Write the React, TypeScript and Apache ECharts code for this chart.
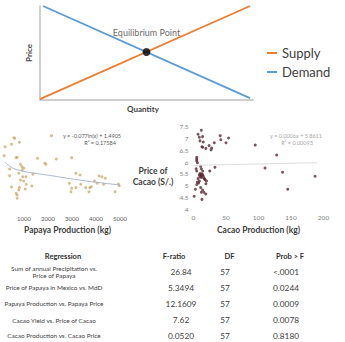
import React, { useEffect, useRef } from "react";
import * as echarts from "echarts";

// ---------- Data ----------
const supplyLine = [[0, 0.1], [9.86, 10]];
const demandLine = [[0.14, 10], [9.86, 0.2]];
const equilibrium = [[5.0, 5.1]];
const legendNames = ["Supply", "Demand"];

const papayaPoints = [
  [579, 1.25], [620, 1.245], [212, 1.171], [481, 1.192], [808, 1.21], [2142, 1.268],
  [171, 1.092], [673, 1.075], [714, 1.078], [1559, 1.069], [1869, 1.026], [1909, 1.017],
  [2346, 1.063], [2987, 1.075], [849, 1.017], [918, 0.996], [987, 0.982], [400, 0.976],
  [400, 0.917], [918, 0.967], [783, 0.938], [947, 0.908], [1081, 0.908], [1367, 0.929],
  [849, 0.879], [987, 0.87], [1093, 0.841], [481, 0.818], [808, 0.812], [1326, 0.826],
  [783, 0.791], [673, 0.762], [1053, 0.8], [714, 0.748], [714, 0.719], [3162, 0.938],
  [3337, 0.923], [2889, 0.85], [2987, 0.806], [2958, 0.776], [3162, 0.812], [3366, 0.841],
  [3570, 0.812], [3745, 0.812], [3803, 0.82], [3937, 0.87], [4129, 0.914], [4251, 0.908],
  [4386, 0.894], [4047, 0.85], [4317, 0.841], [3705, 0.776], [4794, 0.776], [4929, 0.844],
  [4969, 0.829],
];
const papayaTrend = [
  [212, 1.034], [510, 0.987], [918, 0.958], [1461, 0.938], [2142, 0.917],
  [2823, 0.894], [3501, 0.873], [4182, 0.855], [4998, 0.835],
];
const papayaXTicks = [0, 5000, 1000];

const cacaoPoints = [
  [12, 7.35], [7, 7.18], [9, 7.05], [14, 7.08], [10, 6.9], [15, 6.85], [13, 6.65], [14, 6.63],
  [19, 6.58], [24, 6.7], [28, 6.6], [27, 6.52], [32, 6.82], [41, 7.12], [42, 6.95], [50, 6.82],
  [54, 7.02], [95, 6.72], [128, 6.3], [110, 5.75], [137, 5.57], [145, 4.85], [187, 5.4],
  [5, 6.2], [5, 6.12], [5, 6.05], [6, 5.97], [4, 5.72], [5, 5.62], [11, 5.82], [12, 5.72],
  [14, 5.62], [9, 5.45], [10, 5.52], [11, 5.48], [12, 5.42], [13, 5.5], [14, 5.45], [10, 5.38],
  [12, 5.35], [15, 5.4], [16, 5.32], [18, 5.25], [20, 5.2], [19, 5.08], [6, 5.15], [5, 5.05],
  [8, 5.12], [11, 4.92], [14, 4.82], [12, 4.72], [16, 4.72], [19, 4.65], [13, 4.42], [1, 4.55],
  [3, 4.85], [25, 5.62], [33, 5.78], [7, 5.3], [9, 5.2], [17, 5.28],
];
const cacaoTrend = [[0, 5.8611], [190, 5.9751]];
const cacaoXTicks = [0, 200, 50];
const cacaoYTicks = [4, 7.5, 0.5];

const papayaEquation = ["y = -0.077ln(x) + 1.4905", "R² = 0.17584"];
const cacaoEquation = ["y = 0.0006x + 5.8611", "R² = 0.00093"];

const tableHeaders = ["Regression", "F-ratio", "DF", "Prob > F"];
const regressionLabels = [
  "Sum of annual Precipitation vs.\nPrice of Papaya",
  "Price of Papaya in Mexico vs. MdD",
  "Papaya Production vs. Papaya Price",
  "Cacao Yield vs. Price of Cacao",
  "Cacao Production vs. Cacao Price",
];
const fRatios = ["26.84", "5.3494", "12.1609", "7.62", "0.0520"];
const dfs = ["57", "57", "57", "57", "57"];
const probs = ["<.0001", "0.0244", "0.0009", "0.0078", "0.8180"];

// ---------- Layout ----------
const FONT = "Lato, 'Open Sans', sans-serif";
const rowY = [271.5, 287.5, 303.5, 320, 335.5];
const colX = { label: 54, f: 181, df: 225, p: 286 };
const headerX = [63, 174, 229.5, 290];

export default function App() {
  const ref = useRef<HTMLDivElement>(null);

  useEffect(() => {
    if (!ref.current) return;
    const chart = echarts.init(ref.current, undefined, { renderer: "svg" });

    const tableGraphics: any[] = [];
    tableHeaders.forEach((h, i) => {
      tableGraphics.push({
        type: "text",
        x: headerX[i],
        y: 256,
        style: {
          text: h,
          fontSize: 7.5,
          fontWeight: "bold",
          fill: "#303030",
          fontFamily: FONT,
          align: "center",
          verticalAlign: "middle",
        },
      });
    });
    regressionLabels.forEach((lab, i) => {
      tableGraphics.push({
        type: "text",
        x: colX.label,
        y: rowY[i],
        style: {
          text: lab,
          fontSize: 6.4,
          lineHeight: 7,
          fill: "#404040",
          fontFamily: FONT,
          align: "center",
          verticalAlign: "middle",
        },
      });
      [
        [fRatios[i], colX.f],
        [dfs[i], colX.df],
        [probs[i], colX.p],
      ].forEach(([t, x]) => {
        tableGraphics.push({
          type: "text",
          x: x as number,
          y: rowY[i],
          style: {
            text: t as string,
            fontSize: 8.3,
            fill: "#404040",
            fontFamily: FONT,
            align: "center",
            verticalAlign: "middle",
          },
        });
      });
    });

    const eqText = (text: string, x: number, y: number, color: string) => ({
      type: "text",
      x,
      y,
      style: {
        text,
        fontSize: 5.5,
        fill: color,
        fontFamily: FONT,
        align: "center",
        verticalAlign: "middle",
      },
    });

    const option: any = {
      animation: false,
      backgroundColor: "#ffffff",
      textStyle: { fontFamily: FONT },
      legend: {
        data: legendNames,
        orient: "vertical",
        left: 262,
        top: 41,
        itemWidth: 10,
        itemHeight: 2,
        itemGap: 5,
        icon: "rect",
        textStyle: { fontSize: 13, lineHeight: 14, color: "#404040", fontFamily: FONT },
      },
      grid: [
        { left: 40, top: 6, width: 213, height: 94 },
        { left: -2.5, top: 126.3, width: 122.5, height: 85.5 },
        { left: 193.5, top: 126.7, width: 130, height: 82.6 },
      ],
      xAxis: [
        {
          gridIndex: 0,
          type: "value",
          min: 0,
          max: 10,
          axisLine: { show: true, lineStyle: { color: "#bfbfbf", width: 1.5 } },
          axisTick: { show: false },
          axisLabel: { show: false },
          splitLine: { show: false },
          name: "Quantity",
          nameLocation: "middle",
          nameGap: 5,
          nameTextStyle: { fontSize: 8, fontWeight: "bold", color: "#404040", padding: [0, 7, 0, 0] },
        },
        {
          gridIndex: 1,
          type: "value",
          min: papayaXTicks[0],
          max: papayaXTicks[1],
          interval: papayaXTicks[2],
          axisLine: { show: false },
          axisTick: { show: false },
          splitLine: { show: false },
          axisLabel: {
            fontSize: 6,
            color: "#595959",
            margin: 4,
            showMinLabel: false,
            formatter: (v: number) => String(v),
          },
          name: "Papaya Production (kg)",
          nameLocation: "middle",
          nameGap: 14,
          nameTextStyle: { fontSize: 8.5, fontWeight: "bold", color: "#404040", padding: [0, 0, 0, 15] },
        },
        {
          gridIndex: 2,
          type: "value",
          min: cacaoXTicks[0],
          max: cacaoXTicks[1],
          interval: cacaoXTicks[2],
          axisLine: { show: false },
          axisTick: { show: false },
          splitLine: { show: false },
          axisLabel: { fontSize: 6.5, color: "#7f7f7f", margin: 5 },
          name: "Cacao Production (kg)",
          nameLocation: "middle",
          nameGap: 16,
          nameTextStyle: { fontSize: 8.5, fontWeight: "bold", color: "#404040" },
        },
      ],
      yAxis: [
        {
          gridIndex: 0,
          type: "value",
          min: 0,
          max: 10,
          axisLine: { show: true, lineStyle: { color: "#bfbfbf", width: 1.5 } },
          axisTick: { show: false },
          axisLabel: { show: false },
          splitLine: { show: false },
          name: "Price",
          nameLocation: "middle",
          nameGap: 7,
          nameRotate: 90,
          nameTextStyle: { fontSize: 8, fontWeight: "bold", color: "#404040" },
        },
        {
          gridIndex: 1,
          type: "value",
          min: 0.6,
          max: 1.35,
          show: false,
        },
        {
          gridIndex: 2,
          type: "value",
          min: cacaoYTicks[0],
          max: cacaoYTicks[1],
          interval: cacaoYTicks[2],
          axisLine: { show: false },
          axisTick: { show: false },
          splitLine: { show: false },
          axisLabel: { fontSize: 6.5, color: "#7f7f7f", margin: 5 },
        },
      ],
      series: [
        {
          name: "Supply",
          type: "line",
          xAxisIndex: 0,
          yAxisIndex: 0,
          data: supplyLine,
          symbol: "none",
          color: "#ED7D31",
          lineStyle: { width: 1.8, color: "#ED7D31" },
        },
        {
          name: "Demand",
          type: "line",
          xAxisIndex: 0,
          yAxisIndex: 0,
          data: demandLine,
          symbol: "none",
          color: "#5B9BD5",
          lineStyle: { width: 1.8, color: "#5B9BD5" },
        },
        {
          name: "Equilibrium",
          type: "scatter",
          xAxisIndex: 0,
          yAxisIndex: 0,
          data: equilibrium,
          symbolSize: 8,
          itemStyle: { color: "#000000" },
          label: {
            show: true,
            position: "top",
            distance: 11,
            formatter: "Equilibrium Point",
            fontSize: 9,
            color: "#404040",
            fontFamily: FONT,
          },
          z: 5,
        },
        {
          name: "Papaya trend",
          type: "line",
          xAxisIndex: 1,
          yAxisIndex: 1,
          data: papayaTrend,
          smooth: true,
          symbol: "none",
          lineStyle: { width: 1, color: "#aab8cc" },
        },
        {
          name: "Papaya",
          type: "scatter",
          xAxisIndex: 1,
          yAxisIndex: 1,
          data: papayaPoints,
          symbolSize: 3,
          itemStyle: { color: "#c9ad72" },
        },
        {
          name: "Cacao trend",
          type: "line",
          xAxisIndex: 2,
          yAxisIndex: 2,
          data: cacaoTrend,
          symbol: "none",
          lineStyle: { width: 1, color: "#dcdcdc" },
        },
        {
          name: "Cacao",
          type: "scatter",
          xAxisIndex: 2,
          yAxisIndex: 2,
          data: cacaoPoints,
          symbolSize: 3,
          itemStyle: { color: "#5a2a35" },
        },
      ],
      graphic: [
        eqText(papayaEquation[0], 92, 136, "#595959"),
        eqText(papayaEquation[1], 100, 143, "#595959"),
        eqText(cacaoEquation[0], 296, 136, "#a6a6a6"),
        eqText(cacaoEquation[1], 297, 143, "#a6a6a6"),
        {
          type: "text",
          x: 153,
          y: 176.5,
          style: {
            text: "Price of\nCacao (S/.)",
            fontSize: 8.5,
            lineHeight: 11,
            fontWeight: "bold",
            fill: "#404040",
            fontFamily: FONT,
            align: "center",
            verticalAlign: "middle",
          },
        },
        ...tableGraphics,
      ],
    };

    chart.setOption(option);
    return () => chart.dispose();
  }, []);

  return (
    <div
      ref={ref}
      style={{ position: "absolute", left: 0, top: 0, width: 345, height: 342, background: "#fff" }}
    />
  );
}
